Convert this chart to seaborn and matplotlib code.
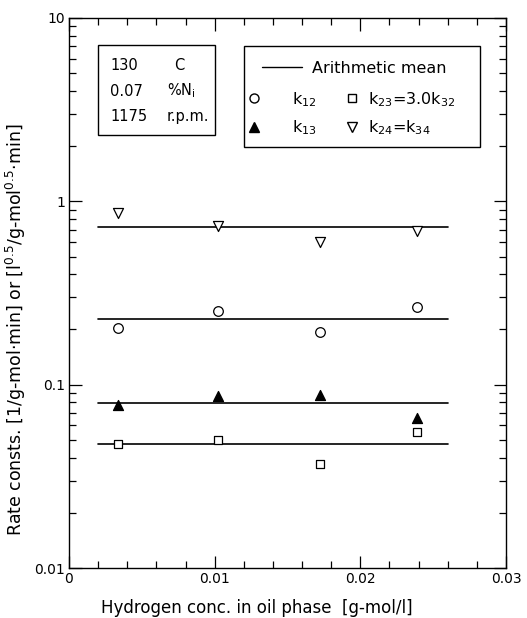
import numpy as np
import pandas as pd
import matplotlib
matplotlib.use("Agg")
import matplotlib.pyplot as plt
from matplotlib.lines import Line2D
from matplotlib.patches import Rectangle
from matplotlib.ticker import LogLocator, MultipleLocator, FixedLocator, FixedFormatter, NullFormatter
import seaborn as sns

# ── data ───────────────────────────────────────────────────────────────────────
h2_conc = [0.00338, 0.0102, 0.0172, 0.0239]          # g-mol/l
k12 = [0.203, 0.252, 0.193, 0.265]
k13 = [0.0775, 0.0868, 0.0875, 0.0661]
k23 = [0.0475, 0.0497, 0.0368, 0.0550]
k24 = [0.861, 0.734, 0.598, 0.689]
mean_span = [0.002, 0.026]                           # x extent of mean lines

cond_values = ["130", "0.07", "1175"]
cond_units = ["C", "%N$_{\\rm i}$", "r.p.m."]

x_ticks = [0, 0.01, 0.02, 0.03]
x_labels = ["0", "0.01", "0.02", "0.03"]
y_ticks = [0.01, 0.1, 1, 10]
y_labels = ["0.01", "0.1", "1", "10"]

sns.set_style("ticks")
plt.rcParams["font.family"] = ["DejaVu Sans"]
plt.rcParams["mathtext.default"] = "regular"
plt.rcParams.update({"text.color": "black", "axes.labelcolor": "black",
                     "xtick.color": "black", "ytick.color": "black"})

fig = plt.figure(figsize=(5.27, 6.18), dpi=100)
ax = fig.add_axes([0.1309, 0.0809, 0.8293, 0.8900])
ax.set_yscale("log")

series = [
    ("k12", k12, "o", "white", 48),
    ("k13", k13, "^", "black", 52),
    ("k23", k23, "s", "white", 38),
    ("k24", k24, "v", "white", 52),
]
for name, vals, mk, fc, size in series:
    mean_df = pd.DataFrame({"x": mean_span, "k": [np.mean(vals)] * 2})
    sns.lineplot(data=mean_df, x="x", y="k", color="black", linewidth=1.2,
                 ax=ax, zorder=2)
    df = pd.DataFrame({"x": h2_conc, "k": vals})
    sns.scatterplot(data=df, x="x", y="k", marker=mk, s=size, facecolor=fc,
                    edgecolor="black", linewidth=0.9, ax=ax, zorder=3)

ax.set_xlim(0, 0.03)
ax.set_ylim(0.01, 10)

# ticks
ax.xaxis.set_major_locator(FixedLocator(x_ticks))
ax.xaxis.set_major_formatter(FixedFormatter(x_labels))
ax.xaxis.set_minor_locator(MultipleLocator(0.002))
ax.yaxis.set_major_locator(FixedLocator(y_ticks))
ax.yaxis.set_major_formatter(FixedFormatter(y_labels))
ax.yaxis.set_minor_locator(LogLocator(base=10, subs=np.arange(2, 10)))
ax.yaxis.set_minor_formatter(NullFormatter())
ax.tick_params(which="both", direction="in", top=True, right=True,
               labelsize=10, color="black", labelcolor="black", width=0.9, pad=3)
ax.tick_params(which="major", length=9)
ax.tick_params(which="minor", length=5)
for sp in ax.spines.values():
    sp.set_linewidth(1.0)
    sp.set_color("black")

ax.set_xlabel("Hydrogen conc. in oil phase  [g-mol/l]", fontsize=12)
ax.xaxis.set_label_coords(0.43, -0.056)
ax.set_ylabel("Rate consts. [1/g-mol·min] or [l$^{0.5}$/g-mol$^{0.5}$·min]",
              fontsize=12.5)
ax.yaxis.set_label_coords(-0.094, 0.433)

# condition box
ax.add_patch(Rectangle((0.0664, 0.787), 0.2676, 0.164, transform=ax.transAxes,
                       fill=False, lw=1.0, ec="black", zorder=4))
for i, (v, u) in enumerate(zip(cond_values, cond_units)):
    yy = 0.914 - i * 0.047
    ax.text(0.094, yy, v, transform=ax.transAxes, fontsize=10.5, va="center")
    ax.text(0.224 if i else 0.24, yy, u, transform=ax.transAxes, fontsize=10.5,
            va="center")

# legend box
ax.add_patch(Rectangle((0.4005, 0.766), 0.54, 0.1836, transform=ax.transAxes,
                       fill=False, lw=1.0, ec="black", zorder=4))
mean_handle = [Line2D([], [], color="black", lw=1.0)]
leg1 = ax.legend(mean_handle, ["Arithmetic mean"], loc="center left",
                 bbox_to_anchor=(0.4416, 0.909), frameon=False, fontsize=11.5,
                 handlelength=2.5, handletextpad=0.62, borderpad=0,
                 borderaxespad=0, labelcolor="black")
ax.add_artist(leg1)

col1_handles = [
    Line2D([], [], ls="none", marker="o", mfc="white", mec="black", ms=6.5),
    Line2D([], [], ls="none", marker="^", mfc="black", mec="black", ms=6.5),
]
col2_handles = [
    Line2D([], [], ls="none", marker="s", mfc="white", mec="black", ms=5.5),
    Line2D([], [], ls="none", marker="v", mfc="white", mec="black", ms=6.5),
]
col1_labels = ["k$_{12}$", "k$_{13}$"]
col2_labels = ["k$_{23}$=3.0k$_{32}$", "k$_{24}$=k$_{34}$"]
leg2 = ax.legend(col1_handles, col1_labels, loc="center left",
                 bbox_to_anchor=(0.405, 0.8264), frameon=False, fontsize=11.5,
                 handlelength=1.0, handletextpad=1.9, labelspacing=0.6,
                 borderpad=0, borderaxespad=0, labelcolor="black")
ax.add_artist(leg2)
ax.legend(col2_handles, col2_labels, loc="center left",
          bbox_to_anchor=(0.629, 0.8264), frameon=False, fontsize=11.5,
          handlelength=1.0, handletextpad=0.5, labelspacing=0.6,
          borderpad=0, borderaxespad=0, labelcolor="black")

fig.savefig("out.png", dpi=100)
